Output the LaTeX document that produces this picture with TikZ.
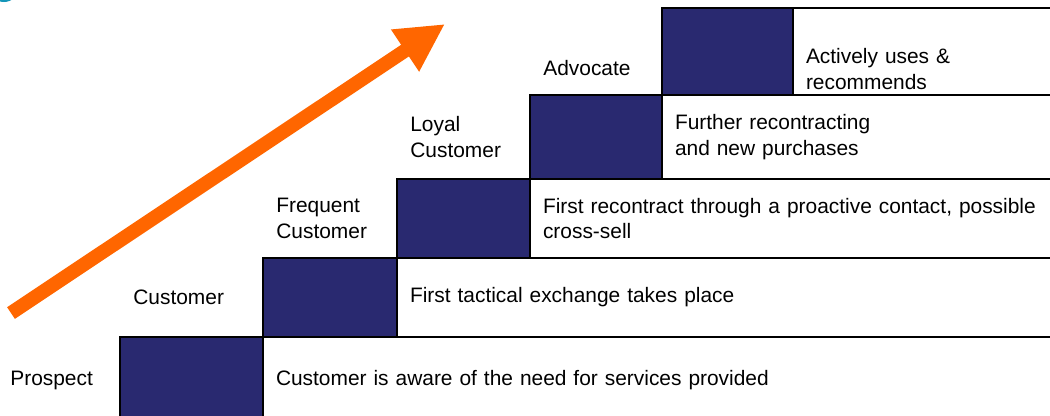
\documentclass[tikz,border=0pt]{standalone}
\usepackage{fontspec}
\setmainfont{Liberation Sans}
\usetikzlibrary{positioning,arrows.meta}

\definecolor{stepnavy}{RGB}{41,41,112}
\definecolor{growthorange}{RGB}{255,102,0}
\definecolor{dotteal}{RGB}{20,150,185}

\begin{document}
\begin{tikzpicture}[
    font=\fontsize{11.9}{14.7}\selectfont,
    stepbox/.style={draw=black, fill=stepnavy, line width=0.045cm, outer sep=0pt,
        minimum width=2.66cm, minimum height=1.58cm, inner sep=0pt},
    stagetext/.style={draw=black, fill=white, line width=0.045cm, outer sep=0pt,
        text width=16cm, align=left, inner xsep=0.26cm, inner ysep=0pt},
    steplabel/.style={align=left, anchor=west, inner xsep=0.26cm, inner ysep=0pt},
    growth/.style={draw=growthorange, line width=0.28cm,
        -{Triangle[length=0.96cm, width=0.94cm]}}
]
\clip (0,0) rectangle (21,-8.3);
\fill[dotteal] (0.08,0.26) circle (0.3cm);

% the staircase, bottom step first
\node[stepbox, minimum width=2.86cm, minimum height=1.72cm, anchor=north west] (d0) at (2.4,-6.74) {};
\node[stepbox, minimum width=2.68cm] (d1) [above right=0cm and 0cm of d0] {};
\node[stepbox] (d2) [above right=0cm and 0cm of d1] {};
\node[stepbox, minimum width=2.64cm, minimum height=1.68cm] (d3) [above right=0cm and 0cm of d2] {};
\node[stepbox, minimum width=2.62cm, minimum height=1.74cm] (d4) [above right=0cm and 0cm of d3] {};

% what happens on each step
\node[stagetext, minimum height=1.72cm] (t0) [right=0cm of d0] {Customer is aware of the need for services provided};
\node[stagetext, minimum height=1.58cm] (t1) [right=0cm of d1] {First tactical exchange takes place};
\node[stagetext, minimum height=1.58cm] (t2) [right=0cm of d2] {First recontract through a proactive contact, possible\\cross-sell};
\node[stagetext, minimum height=1.68cm] (t3) [right=0cm of d3] {Further recontracting\\and new purchases};
\node[stagetext, minimum height=1.74cm, text height=1cm] (t4) [right=0cm of d4] {Actively uses \&\\recommends};

% step names
\node[steplabel] (lab0) at ([xshift=-2.46cm]d0.west) {Prospect};
\node[steplabel] (lab1) at (d0.north west |- d1.west) {Customer};
\node[steplabel] (lab2) at (d1.north west |- d2.west) {Frequent\\Customer};
\node[steplabel] (lab3) at (d2.north west |- d3.west) {Loyal\\Customer};
\node[steplabel, yshift=-0.33cm] (lab4) at (d3.north west |- d4.west) {Advocate};

% big arrow
\coordinate (tail) at (0.22,-6.26);
\coordinate (tip) at (8.9,-0.48);
\draw[growth] (tail) -- (tip);
\end{tikzpicture}
\end{document}
